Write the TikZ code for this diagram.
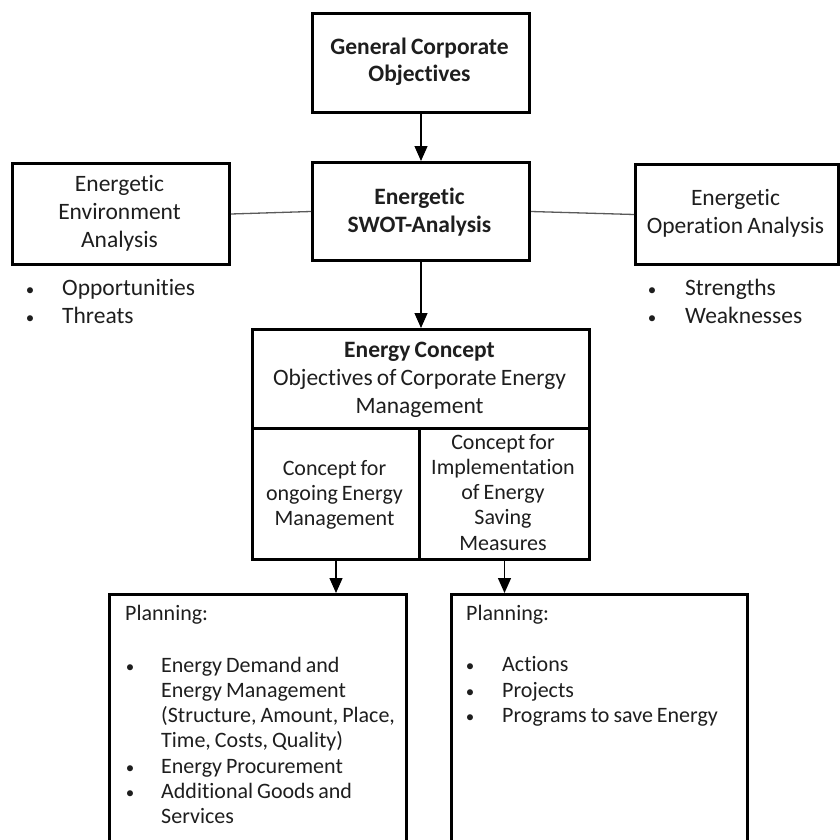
\documentclass[tikz,border=0pt]{standalone}
\usepackage{fontspec}
\setmainfont{Carlito}[Ligatures=NoCommon, WordSpace=0.8]
\usetikzlibrary{arrows.meta}
\definecolor{ink}{HTML}{1E1E1E}
\definecolor{linkgrey}{HTML}{5A5A5A}
\begin{document}
\begin{tikzpicture}[x=1pt,y=-1pt,
  box/.style={draw=black, line width=3pt, inner sep=0pt, anchor=north west},
  cell/.style={draw=black, line width=3pt, inner sep=0pt, anchor=north west},
  big/.style={font=\fontsize{23.5}{28}\selectfont, text=ink, inner sep=0pt},
  small/.style={font=\fontsize{22}{25.3}\selectfont, text=ink, inner sep=0pt},
  dot/.style={font=\fontsize{17}{20}\selectfont, text=ink, inner sep=0pt, anchor=base},
  ctext/.style={anchor=base, align=flush center},
  ltext/.style={anchor=base west, align=flush left},
  flow/.style={draw=black, line width=1.3pt, -{Triangle[width=13pt,length=15pt]}},
  link/.style={draw=linkgrey, line width=1.3pt}
]
\useasboundingbox (0,0) rectangle (840,840);
\clip (0,0) rectangle (840,840);

% boxes
\node[box, minimum width=217pt, minimum height=99pt] (goal) at (311,12) {};
\node[box, minimum width=217pt, minimum height=98pt] (swot) at (311,161) {};
\node[box, minimum width=217pt, minimum height=101pt] (env) at (11,162) {};
\node[box, minimum width=203pt, minimum height=100pt] (oper) at (634,163) {};
\node[box, minimum width=337pt, minimum height=99pt] (concept) at (251,328) {};
\node[cell, minimum width=167pt, minimum height=131pt] (cellL) at (251,427) {};
\node[cell, minimum width=170pt, minimum height=131pt] (cellR) at (418,427) {};
\node[box, minimum width=297pt, minimum height=280pt] (plan1) at (108,593) {};
\node[box, minimum width=296pt, minimum height=280pt] (plan2) at (450,593) {};

% box texts
\node[big, ctext, text width=214pt, font=\fontsize{23.5}{27}\selectfont\bfseries] (goaltxt) at (419.5,55) {General Corporate\\Objectives};
\node[big, ctext, text width=214pt, font=\fontsize{23.5}{28}\selectfont\bfseries] (swottxt) at (419.5,204) {Energetic\\SWOT-Analysis};
\node[big, ctext, text width=214pt] (envtxt) at (119.5,191.5) {Energetic\\Environment\\Analysis};
\node[big, ctext, text width=200pt] (opertxt) at (735.5,205) {Energetic\\Operation Analysis};
\node[big, ctext, text width=334pt] (concepttxt) at (419.5,357) {{\bfseries Energy Concept}\\Objectives of Corporate Energy\\Management};
\node[small, ctext, text width=164pt] (cellLtxt) at (334.5,475) {Concept for\\ongoing Energy\\Management};
\node[small, ctext, text width=167pt] (cellRtxt) at (503,449) {Concept for\\Implementation\\of Energy\\Saving\\Measures};

% analysis results
\node[dot] (b1) at (30,295) {•};
\node[big, ltext] (opp) at (62,295) {Opportunities};
\node[dot] (b2) at (30,323) {•};
\node[big, ltext] (thr) at (62,323) {Threats};
\node[dot] (b3) at (652,295) {•};
\node[big, ltext] (str) at (685,295) {Strengths};
\node[dot] (b4) at (652,323) {•};
\node[big, ltext] (wea) at (685,323) {Weaknesses};

% planning, ongoing management
\node[small, ltext] (p1head) at (125,620) {Planning:};
\node[dot] (p1b1) at (130,672) {•};
\node[small, ltext, text width=260pt] (p1i1) at (161,672) {Energy Demand and\\Energy Management\\(Structure, Amount, Place,\\Time, Costs, Quality)};
\node[dot] (p1b2) at (130,773) {•};
\node[small, ltext] (p1i2) at (161,773) {Energy Procurement};
\node[dot] (p1b3) at (130,798) {•};
\node[small, ltext, text width=240pt] (p1i3) at (161,798) {Additional Goods and\\Services};

% planning, saving measures
\node[small, ltext] (p2head) at (466,620) {Planning:};
\node[dot] (p2b1) at (470,671) {•};
\node[small, ltext] (p2i1) at (502,671) {Actions};
\node[dot] (p2b2) at (470,697) {•};
\node[small, ltext] (p2i2) at (502,697) {Projects};
\node[dot] (p2b3) at (470,722) {•};
\node[small, ltext] (p2i3) at (502,722) {Programs to save Energy};

% connectors
\draw[flow] (goal.south) -- (swot.north);
\draw[flow] (swot.south) -- (concept.north);
\draw[link] (env.east) -- (swot.west);
\draw[link] (swot.east) -- (oper.west);
\draw[flow] (cellL.south) -- (cellL.south |- plan1.north);
\draw[flow] (cellR.south) -- (cellR.south |- plan2.north);
\end{tikzpicture}
\end{document}
